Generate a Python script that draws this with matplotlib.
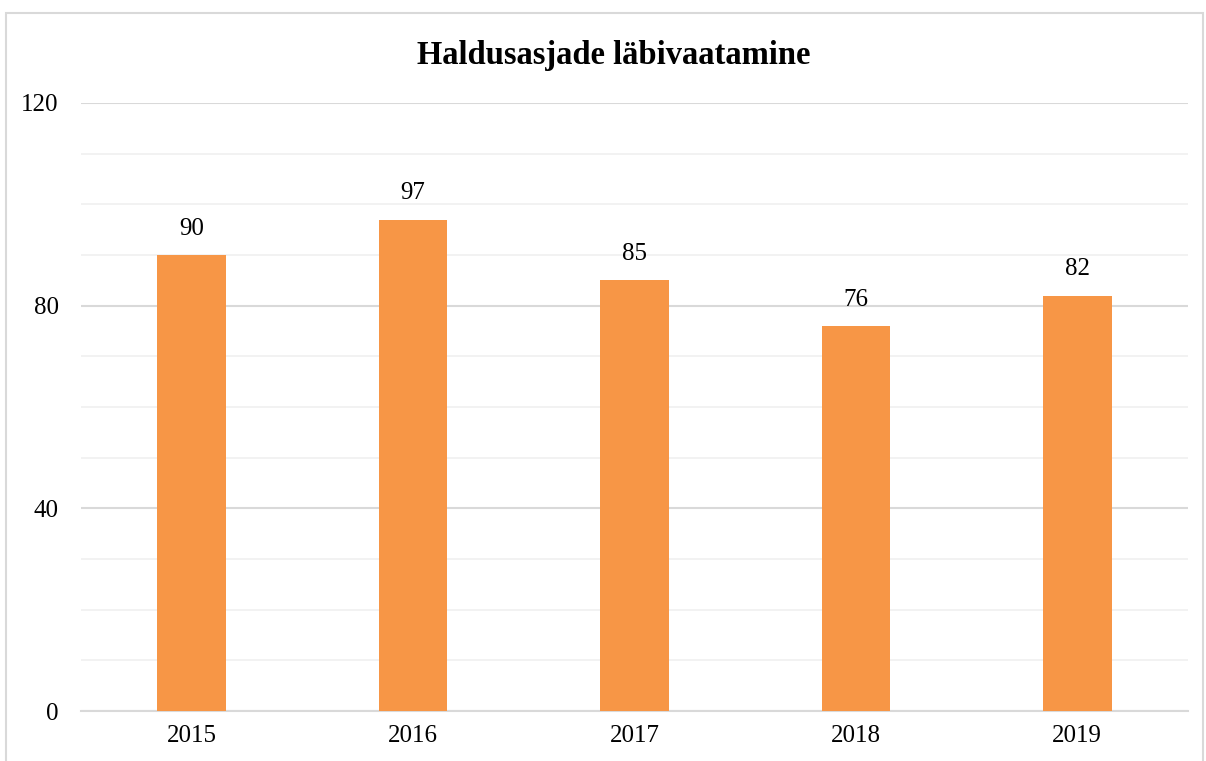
import matplotlib.pyplot as plt
from matplotlib.patches import Rectangle
import numpy as np

years = ["2015", "2016", "2017", "2018", "2019"]
cases = [90, 97, 85, 76, 82]

plt.rcParams['font.family'] = ['Liberation Serif', 'DejaVu Serif']

fig = plt.figure(figsize=(12.06, 7.61), dpi=100)
ax = fig.add_axes([0.0672, 0.0657, 0.9178, 0.799])

x = np.arange(len(years))
ax.bar(x, cases, 0.31, color='#f79646', zorder=3)
for xi, v in zip(x, cases):
    ax.text(xi, v + 3, str(v), ha='center', va='bottom', fontsize=18)

ax.set_xlim(-0.5, len(years) - 0.5)
ax.set_ylim(0, 120)
ax.set_yticks([0, 40, 80, 120])
ax.set_yticks(np.arange(0, 121, 10), minor=True)
ax.set_xticks(x, years)
ax.grid(axis='y', which='minor', color='#f0f0f0', linewidth=1.2, zorder=0)
ax.grid(axis='y', which='major', color='#d9d9d9', linewidth=1.5, zorder=1)
ax.tick_params(which='both', length=0, labelsize=18)
ax.tick_params(axis='y', pad=16)
ax.tick_params(axis='x', pad=10)
for s in ['top', 'right', 'left']:
    ax.spines[s].set_visible(False)
ax.spines['bottom'].set_color('#d9d9d9')
ax.spines['bottom'].set_linewidth(1.5)

fig.text(0.509, 0.927, "Haldusasjade läbivaatamine", ha='center', va='center',
         fontsize=23.5, fontweight='bold')

fig.patches.append(Rectangle((6 / 1206, -0.05), 1197 / 1206, 1 - 13 / 761 + 0.05,
                             transform=fig.transFigure, fill=False,
                             edgecolor='#d9d9d9', linewidth=1.5))

fig.savefig("out.png", dpi=100)
